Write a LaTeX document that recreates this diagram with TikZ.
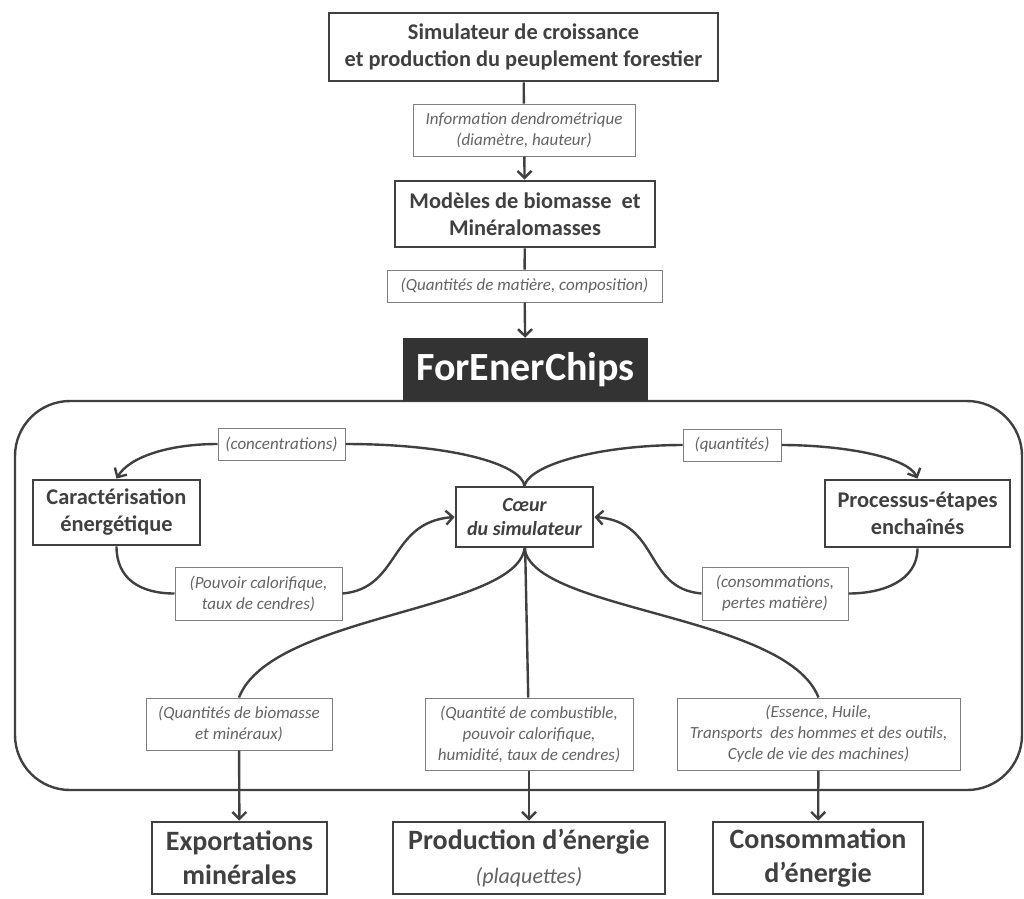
\documentclass[tikz,border=0pt]{standalone}
\usepackage{fontspec}
\setmainfont{Carlito}
\usetikzlibrary{arrows.meta,positioning,calc}
\definecolor{gris}{RGB}{64,64,64}
\definecolor{grisclair}{RGB}{127,127,127}
\definecolor{texte}{RGB}{100,100,100}
\definecolor{noir}{RGB}{51,51,51}

\begin{document}
\begin{tikzpicture}[x=1pt,y=1pt,
    taille/.style 2 args={minimum width=#1pt,minimum height=#2pt},
    boite/.style={draw=gris,line width=2.8pt,fill=white,align=center,text=gris,inner sep=0pt,
                  font=\bfseries\fontsize{22.4}{27}\selectfont},
    grande/.style={boite,font=\bfseries\fontsize{28}{34}\selectfont},
    etiquette/.style={draw=grisclair,line width=1pt,fill=white,align=center,text=texte,inner sep=0pt,
                  font=\itshape\fontsize{17}{21}\selectfont},
    ligne/.style={line width=2.4pt,gris},
    fleche/.style={ligne,-{Straight Barb[length=7pt,width=14pt]}}]
  \useasboundingbox (0,0) rectangle (1024,-898);
  % cadre du simulateur
  \draw[ligne,rounded corners=55pt] (15,-401) rectangle (1022,-790);
  % colonne du haut
  \node[boite,taille={389}{68}] (sim) at (523.5,-47) {Simulateur de croissance\\et production du peuplement forestier};
  \node[etiquette,taille={222}{52}] (info) at (524,-130) {Information dendrométrique\\(diamètre, hauteur)};
  \node[boite,taille={260}{66}] (mod) at (525,-214) {Modèles de biomasse\ \ et\\Minéralomasses};
  \node[etiquette,taille={275}{32}] (qmat) at (524.5,-286) {(Quantités de matière, composition)};
  \node[fill=noir,text=white,inner sep=0pt,font=\bfseries\fontsize{40}{48}\selectfont,taille={245}{63}]
       (fec) at (525.5,-369.5) {ForEnerChips};
  % coeur et modules
  \node[boite,taille={167}{65}] (car) at (116.5,-512.5) {Caractérisation\\énergétique};
  \node[boite,taille={137}{60},font=\bfseries\itshape\fontsize{20}{24}\selectfont] (coe) at (524.5,-517) {Cœur\\du simulateur};
  \node[boite,taille={185}{67}] (pro) at (917.5,-513.5) {Processus-étapes\\enchaînés};
  \node[etiquette,taille={127}{32}] (conc) at (281.5,-444) {(concentrations)};
  \node[etiquette,taille={98}{32}] (quant) at (732,-445) {(quantités)};
  \node[etiquette,taille={167}{53}] (pouv) at (258.5,-593.5) {(Pouvoir calorifique,\\taux de cendres)};
  \node[etiquette,taille={146}{53}] (cons) at (775,-593.5) {(consommations,\\pertes matière)};
  % sorties
  \node[etiquette,taille={186}{52}] (bio) at (239,-724) {(Quantités de biomasse\\et minéraux)};
  \node[etiquette,taille={208}{72}] (comb) at (529,-734) {(Quantité de combustible,\\pouvoir calorifique,\\humidité, taux de cendres)};
  \node[etiquette,taille={283}{72}] (ess) at (818.5,-734) {(Essence, Huile,\\Transports\ \ des hommes et des outils,\\Cycle de vie des machines)};
  \node[grande,taille={175}{72}] (exp) at (239.5,-858) {Exportations\\minérales};
  \node[grande,taille={272}{72}] (prd) at (529,-858) {Production d’énergie\\{\mdseries\itshape\fontsize{22}{27}\selectfont\color{texte}(plaquettes)}};
  \node[grande,taille={210}{72}] (con) at (818,-858) {Consommation\\d’énergie};
  % liaisons droites
  \foreach \u/\v in {sim/info,mod/qmat,coe/comb} \draw[ligne] (\u) -- (\v);
  \foreach \u/\v in {info/mod,qmat/fec,comb/prd,bio/exp,ess/con} \draw[fleche] (\u) -- (\v);
  % boucles vers les modules
  \draw[ligne] (coe.north) .. controls +(-4,22) and +(105,0) .. (conc.east);
  \draw[fleche] (conc.west) .. controls +(-48,0) and +(13,22) .. (car.north);
  \draw[ligne] (coe.north) .. controls +(6,22) and +(-80,0) .. (quant.west);
  \draw[fleche] (quant.east) .. controls +(60,0) and +(-10,22) .. (pro.north);
  \draw[ligne] (car.south) .. controls +(0,-32) and +(-35,0) .. (pouv.west);
  \draw[fleche] (pouv.east) .. controls +(58,5) and +(-66,-5) .. (coe.west);
  \draw[ligne] (pro.south) .. controls +(0,-32) and +(35,0) .. (cons.east);
  \draw[fleche] (cons.west) .. controls +(-58,5) and +(66,-5) .. (coe.east);
  % vers les sorties
  \draw[ligne] (coe.south) .. controls +(-9,-63) and +(32,83) .. (bio.north);
  \draw[ligne] (coe.south) .. controls +(9,-63) and +(-32,83) .. (ess.north);
\end{tikzpicture}
\end{document}
